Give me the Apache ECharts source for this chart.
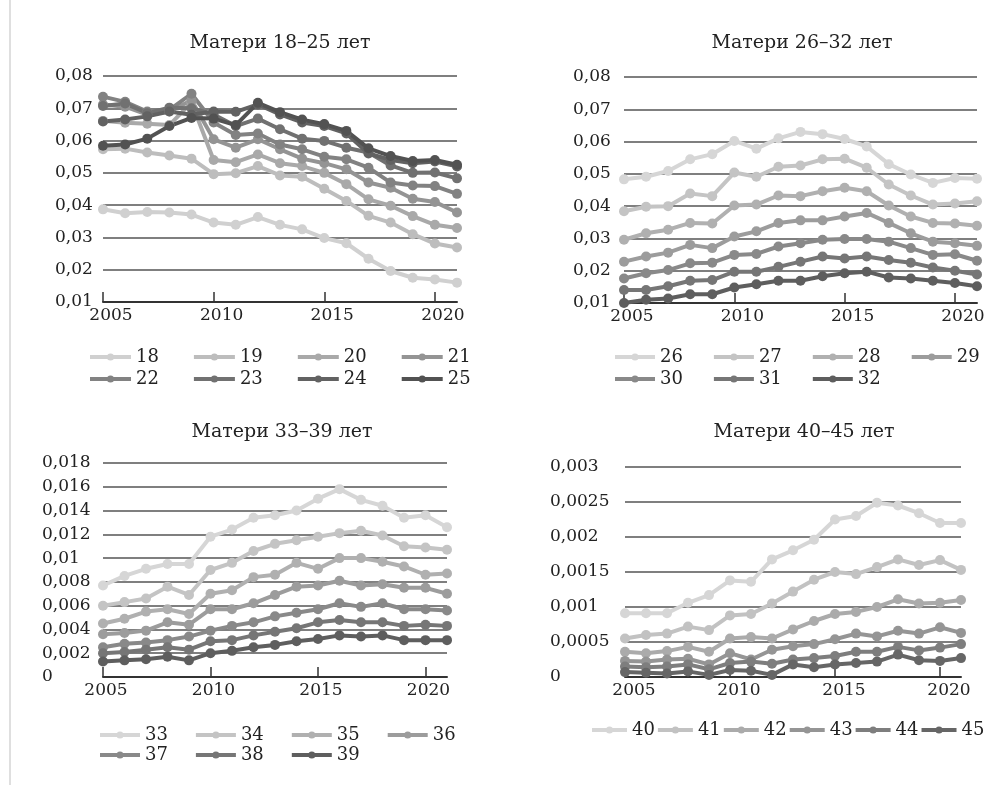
<!DOCTYPE html>
<html>
<head>
<meta charset="utf-8">
<title>Матери</title>
<script src="https://cdn.jsdelivr.net/npm/echarts@6.0.0/dist/echarts.min.js"></script>
<style>
html, body { margin: 0; padding: 0; background: #fff; }
#main { width: 1007px; height: 785px; }
</style>
</head>
<body>
<div id="main"></div>
<script>
// годы по оси X
var years = ['2005', '2006', '2007', '2008', '2009', '2010', '2011', '2012', '2013',
    '2014', '2015', '2016', '2017', '2018', '2019', '2020', '2021'];

// Матери 18-25 лет
var names1 = ['18', '19', '20', '21', '22', '23', '24', '25'];
var m18 = [0.0387, 0.0375, 0.0379, 0.0377, 0.0371, 0.0346, 0.0339, 0.0363, 0.0339, 0.0325, 0.0298, 0.0282, 0.0234, 0.0196, 0.0175, 0.0170, 0.0160];
var m19 = [0.0573, 0.0575, 0.0563, 0.0554, 0.0544, 0.0496, 0.0499, 0.0521, 0.0492, 0.0488, 0.0451, 0.0413, 0.0367, 0.0346, 0.0310, 0.0281, 0.0269];
var m20 = [0.0661, 0.0655, 0.0652, 0.0648, 0.0718, 0.0540, 0.0533, 0.0557, 0.0530, 0.0521, 0.0500, 0.0465, 0.0418, 0.0398, 0.0366, 0.0339, 0.0329];
var m21 = [0.0712, 0.0705, 0.0680, 0.0690, 0.0725, 0.0604, 0.0578, 0.0604, 0.0573, 0.0544, 0.0530, 0.0511, 0.0470, 0.0454, 0.0420, 0.0410, 0.0377];
var m22 = [0.0736, 0.0720, 0.0690, 0.0695, 0.0745, 0.0656, 0.0617, 0.0622, 0.0588, 0.0573, 0.0550, 0.0542, 0.0516, 0.0470, 0.0461, 0.0459, 0.0435];
var m23 = [0.0707, 0.0715, 0.0685, 0.0702, 0.0700, 0.0681, 0.0645, 0.0668, 0.0635, 0.0606, 0.0599, 0.0578, 0.0563, 0.0523, 0.0500, 0.0501, 0.0483];
var m24 = [0.0659, 0.0665, 0.0675, 0.0690, 0.0680, 0.0690, 0.0689, 0.0712, 0.0681, 0.0656, 0.0645, 0.0622, 0.0560, 0.0540, 0.0530, 0.0535, 0.0520];
var m25 = [0.0584, 0.0588, 0.0606, 0.0645, 0.0670, 0.0668, 0.0648, 0.0717, 0.0688, 0.0665, 0.0651, 0.0630, 0.0576, 0.0552, 0.0537, 0.0540, 0.0525];

// Матери 26-32 лет
var names2 = ['26', '27', '28', '29', '30', '31', '32'];
var m26 = [0.0483, 0.0491, 0.0509, 0.0545, 0.0561, 0.0602, 0.0578, 0.0610, 0.0630, 0.0623, 0.0608, 0.0585, 0.0530, 0.0498, 0.0472, 0.0487, 0.0485];
var m27 = [0.0384, 0.0398, 0.0400, 0.0439, 0.0431, 0.0504, 0.0491, 0.0522, 0.0526, 0.0545, 0.0547, 0.0519, 0.0467, 0.0433, 0.0405, 0.0408, 0.0415];
var m28 = [0.0296, 0.0316, 0.0327, 0.0348, 0.0346, 0.0402, 0.0405, 0.0433, 0.0431, 0.0446, 0.0457, 0.0446, 0.0402, 0.0368, 0.0348, 0.0346, 0.0339];
var m29 = [0.0228, 0.0244, 0.0256, 0.0280, 0.0270, 0.0306, 0.0322, 0.0348, 0.0356, 0.0356, 0.0368, 0.0379, 0.0348, 0.0316, 0.0290, 0.0285, 0.0277];
var m30 = [0.0176, 0.0192, 0.0202, 0.0223, 0.0225, 0.0249, 0.0252, 0.0275, 0.0285, 0.0296, 0.0298, 0.0298, 0.0290, 0.0270, 0.0249, 0.0251, 0.0231];
var m31 = [0.0140, 0.0140, 0.0152, 0.0169, 0.0171, 0.0197, 0.0197, 0.0212, 0.0228, 0.0244, 0.0238, 0.0244, 0.0233, 0.0225, 0.0210, 0.0200, 0.0188];
var m32 = [0.0100, 0.0110, 0.0114, 0.0127, 0.0127, 0.0148, 0.0158, 0.0169, 0.0169, 0.0183, 0.0192, 0.0197, 0.0179, 0.0176, 0.0169, 0.0162, 0.0152];

// Матери 33-39 лет
var names3 = ['33', '34', '35', '36', '37', '38', '39'];
var m33 = [0.0077, 0.0085, 0.0091, 0.0095, 0.0095, 0.0118, 0.0124, 0.0134, 0.0136, 0.0140, 0.0150, 0.0158, 0.0149, 0.0144, 0.0134, 0.0136, 0.0126];
var m34 = [0.0060, 0.0063, 0.0066, 0.0076, 0.0069, 0.0090, 0.0096, 0.0106, 0.0112, 0.0115, 0.0118, 0.0121, 0.0123, 0.0119, 0.0110, 0.0109, 0.0107];
var m35 = [0.0045, 0.0049, 0.0055, 0.0057, 0.0053, 0.0070, 0.0073, 0.0084, 0.0086, 0.0096, 0.0091, 0.0100, 0.0100, 0.0097, 0.0093, 0.0086, 0.0087];
var m36 = [0.0036, 0.0037, 0.0039, 0.0046, 0.0044, 0.0057, 0.0057, 0.0062, 0.0069, 0.0076, 0.0077, 0.0081, 0.0077, 0.0078, 0.0075, 0.0075, 0.0070];
var m37 = [0.0025, 0.0028, 0.0029, 0.0031, 0.0034, 0.0039, 0.0043, 0.0046, 0.0051, 0.0054, 0.0057, 0.0062, 0.0059, 0.0062, 0.0057, 0.0057, 0.0056];
var m38 = [0.0020, 0.0021, 0.0023, 0.0025, 0.0023, 0.0030, 0.0031, 0.0035, 0.0038, 0.0041, 0.0046, 0.0048, 0.0046, 0.0046, 0.0043, 0.0044, 0.0043];
var m39 = [0.0013, 0.0014, 0.0015, 0.0017, 0.0014, 0.0020, 0.0022, 0.0025, 0.0027, 0.0030, 0.0032, 0.0035, 0.0034, 0.0035, 0.0031, 0.0031, 0.0031];

// Матери 40-45 лет
var names4 = ['40', '41', '42', '43', '44', '45'];
var m40 = [0.00091, 0.00091, 0.00091, 0.00106, 0.00117, 0.00138, 0.00136, 0.00168, 0.00181, 0.00196, 0.00225, 0.00230, 0.00249, 0.00245, 0.00234, 0.00220, 0.00220];
var m41 = [0.00055, 0.00060, 0.00062, 0.00072, 0.00067, 0.00088, 0.00090, 0.00105, 0.00122, 0.00139, 0.00150, 0.00147, 0.00157, 0.00168, 0.00160, 0.00167, 0.00153];
var m42 = [0.00036, 0.00034, 0.00037, 0.00043, 0.00036, 0.00055, 0.00057, 0.00055, 0.00068, 0.00080, 0.00090, 0.00093, 0.00100, 0.00111, 0.00105, 0.00106, 0.00110];
var m43 = [0.00023, 0.00022, 0.00025, 0.00026, 0.00018, 0.00034, 0.00025, 0.00039, 0.00044, 0.00047, 0.00054, 0.00062, 0.00058, 0.00066, 0.00062, 0.00071, 0.00063];
var m44 = [0.00015, 0.00014, 0.00015, 0.00018, 0.00011, 0.00020, 0.00022, 0.00019, 0.00025, 0.00027, 0.00030, 0.00036, 0.00036, 0.00043, 0.00038, 0.00042, 0.00047];
var m45 = [0.00007, 0.00006, 0.00005, 0.00008, 0.00003, 0.00010, 0.00009, 0.00003, 0.00018, 0.00014, 0.00018, 0.00020, 0.00022, 0.00032, 0.00024, 0.00023, 0.00027];

var FONT = 'DejaVu Serif';
var TEXT = '#222';

var panels = [{
    title: 'Матери 18–25 лет', titleX: 280, titleY: 43,
    names: names1, values: [m18, m19, m20, m21, m22, m23, m24, m25],
    colors: ['#d0d0d0', '#bdbdbd', '#a9a9a9', '#949494', '#828282', '#717171', '#626262', '#525252'],
    grid: { left: 103, top: 76, width: 354, height: 226 },
    yMin: 0.01, yMax: 0.08, yStep: 0.01, yMargin: 48, xShift: 16,
    legendLeft: 88, legendTops: [348, 370], perRow: 4, iconW: 41, gap: 33
}, {
    title: 'Матери 26–32 лет', titleX: 802, titleY: 43,
    names: names2, values: [m26, m27, m28, m29, m30, m31, m32],
    colors: ['#d6d6d6', '#c4c4c4', '#b0b0b0', '#9c9c9c', '#898989', '#767676', '#5e5e5e'],
    grid: { left: 624, top: 77, width: 353, height: 226 },
    yMin: 0.01, yMax: 0.08, yStep: 0.01, yMargin: 51, xShift: 16,
    legendLeft: 613, legendTops: [348, 370], perRow: 4, iconW: 40, gap: 29
}, {
    title: 'Матери 33–39 лет', titleX: 282, titleY: 432,
    names: names3, values: [m33, m34, m35, m36, m37, m38, m39],
    colors: ['#d6d6d6', '#c4c4c4', '#b0b0b0', '#9c9c9c', '#898989', '#767676', '#5e5e5e'],
    grid: { left: 103, top: 463, width: 344, height: 214 },
    yMin: 0, yMax: 0.018, yStep: 0.002, yMargin: 61, xShift: 6,
    legendLeft: 98, legendTops: [726, 746], perRow: 4, iconW: 40, gap: 26
}, {
    title: 'Матери 40–45 лет', titleX: 804, titleY: 432,
    names: names4, values: [m40, m41, m42, m43, m44, m45],
    colors: ['#d6d6d6', '#c2c2c2', '#ababab', '#959595', '#7e7e7e', '#666666'],
    grid: { left: 625, top: 467, width: 336, height: 210 },
    yMin: 0, yMax: 0.003, yStep: 0.0005, yMargin: 75, xShift: 18,
    legendLeft: 590, legendTops: [721], perRow: 6, iconW: 35, gap: 1
}];

function fmt(v) {
    return String(+v.toFixed(5)).replace('.', ',');
}

var option = {
    animation: false,
    backgroundColor: '#fff',
    grid: [], xAxis: [], yAxis: [], series: [], legend: [],
    graphic: [{
        type: 'line',
        shape: { x1: 10, y1: 0, x2: 10, y2: 785 },
        style: { stroke: '#d4d4d4', lineWidth: 1.5 }
    }]
};

panels.forEach(function (p, k) {
    option.grid.push(p.grid);
    option.graphic.push({
        type: 'text',
        style: {
            text: p.title, x: p.titleX, y: p.titleY,
            textAlign: 'center', textVerticalAlign: 'middle',
            font: '19px "' + FONT + '"', fill: TEXT
        }
    });
    option.xAxis.push({
        type: 'category', gridIndex: k, data: years, boundaryGap: false,
        axisLine: { lineStyle: { color: '#333', width: 2 } },
        axisTick: { inside: true, length: 10, interval: 4, lineStyle: { color: '#333', width: 1.5 } },
        axisLabel: {
            interval: 4, margin: 5, fontFamily: FONT, fontSize: 17, color: TEXT,
            padding: [0, 0, 0, p.xShift]
        }
    });
    option.yAxis.push({
        type: 'value', gridIndex: k, min: p.yMin, max: p.yMax, interval: p.yStep,
        axisLine: { show: false }, axisTick: { show: false },
        splitLine: { lineStyle: { color: '#555', width: 1.5 } },
        axisLabel: {
            align: 'left', margin: p.yMargin, fontFamily: FONT, fontSize: 17, color: TEXT,
            formatter: fmt
        }
    });
    p.names.forEach(function (name, i) {
        option.series.push({
            name: name, type: 'line', xAxisIndex: k, yAxisIndex: k,
            data: p.values[i],
            symbol: 'circle', symbolSize: 10,
            lineStyle: { width: 4, color: p.colors[i] },
            itemStyle: { color: p.colors[i] },
            emphasis: { disabled: true }
        });
    });
    p.legendTops.forEach(function (top, r) {
        option.legend.push({
            left: p.legendLeft, top: top, orient: 'horizontal', padding: 0,
            data: p.names.slice(r * p.perRow, (r + 1) * p.perRow),
            itemWidth: p.iconW, itemHeight: 9, itemGap: p.gap,
            selectedMode: false,
            lineStyle: { width: 4 },
            textStyle: { fontFamily: FONT, fontSize: 18, color: TEXT }
        });
    });
});

var myChart = echarts.init(document.getElementById('main'));
myChart.setOption(option);
</script>
</body>
</html>
